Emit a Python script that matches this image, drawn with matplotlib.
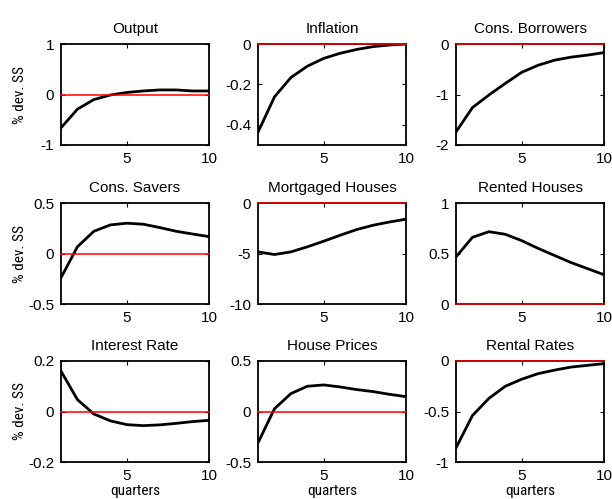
import matplotlib
matplotlib.use("Agg")
import matplotlib.pyplot as plt
from matplotlib import font_manager

quarters = [1, 2, 3, 4, 5, 6, 7, 8, 9, 10]

titles = ["Output", "Inflation", "Cons. Borrowers",
          "Cons. Savers", "Mortgaged Houses", "Rented Houses",
          "Interest Rate", "House Prices", "Rental Rates"]

output = [-0.66, -0.29, -0.10, -0.01, 0.04, 0.07, 0.09, 0.09, 0.07, 0.07]
inflation = [-0.437, -0.262, -0.166, -0.11, -0.071, -0.046, -0.027, -0.013, -0.005, 0.0]
cons_borrowers = [-1.74, -1.26, -1.01, -0.78, -0.56, -0.42, -0.32, -0.26, -0.22, -0.17]
cons_savers = [-0.24, 0.067, 0.22, 0.283, 0.30, 0.29, 0.257, 0.22, 0.193, 0.167]
mortgaged_houses = [-4.84, -5.1, -4.84, -4.34, -3.78, -3.19, -2.63, -2.2, -1.88, -1.6]
rented_houses = [0.467, 0.66, 0.716, 0.69, 0.627, 0.55, 0.48, 0.41, 0.35, 0.29]
interest_rate = [0.16, 0.047, -0.01, -0.037, -0.052, -0.056, -0.053, -0.047, -0.04, -0.035]
house_prices = [-0.31, 0.027, 0.177, 0.25, 0.263, 0.243, 0.217, 0.197, 0.17, 0.147]
rental_rates = [-0.86, -0.54, -0.37, -0.25, -0.18, -0.125, -0.09, -0.06, -0.043, -0.026]

series = [output, inflation, cons_borrowers, cons_savers, mortgaged_houses,
          rented_houses, interest_rate, house_prices, rental_rates]

ylims = [(-1, 1), (-0.5, 0), (-2, 0), (-0.5, 0.5), (-10, 0), (0, 1),
         (-0.2, 0.2), (-0.5, 0.5), (-1, 0)]
yticks = [[-1, 0, 1], [-0.4, -0.2, 0], [-2, -1, 0], [-0.5, 0, 0.5], [-10, -5, 0],
          [0, 0.5, 1], [-0.2, 0, 0.2], [-0.5, 0, 0.5], [-1, -0.5, 0]]
ytick_labels = [["-1", "0", "1"], ["-0.4", "-0.2", "0"], ["-2", "-1", "0"],
                ["-0.5", "0", "0.5"], ["-10", "-5", "0"], ["0", "0.5", "1"],
                ["-0.2", "0", "0.2"], ["-0.5", "0", "0.5"], ["-1", "-0.5", "0"]]
xticks = [5, 10]

plt.rcParams['font.family'] = ['Liberation Sans', 'DejaVu Sans']

names = {f.name for f in font_manager.fontManager.ttflist}
narrow_family = 'DejaVu Sans'
for cand in ['Liberation Sans Narrow', 'Roboto Condensed', 'Open Sans Condensed',
             'DejaVu Sans Condensed']:
    if cand in names:
        narrow_family = cand
        break
has_condensed = any(f.name == 'DejaVu Sans' and 'ondensed' in str(f.stretch) or
                    'Condensed' in f.fname for f in font_manager.fontManager.ttflist)
narrow_kw = dict(family=narrow_family)
if narrow_family == 'DejaVu Sans' and has_condensed:
    narrow_kw['stretch'] = 'condensed'
is_narrow = narrow_family != 'DejaVu Sans' or has_condensed
ylab_size = 11 if is_narrow else 9
xlab_size = 11 if is_narrow else 9

fig = plt.figure(figsize=(6.12, 4.99), dpi=100)
lefts = [61 / 612, 258 / 612, 456 / 612]
bottoms = [1 - 145 / 499, 1 - 304 / 499, 1 - 462 / 499]
w = 148 / 612
h = 101 / 499

for i in range(9):
    r, c = divmod(i, 3)
    ax = fig.add_axes([lefts[c], bottoms[r], w, h])
    ax.plot(quarters, series[i], color='black', linewidth=2, zorder=3)
    ax.axhline(0, color='red', linewidth=1.1, zorder=4, clip_on=False)
    ax.set_xlim(1, 10)
    ax.set_ylim(*ylims[i])
    ax.set_xticks(xticks)
    ax.set_yticks(yticks[i])
    ax.set_yticklabels(ytick_labels[i])
    ax.tick_params(direction='in', top=True, right=True, labelsize=11, length=3,
                   width=0.8)
    ax.tick_params(axis='x', pad=5)
    ax.tick_params(axis='y', pad=5)
    for s in ax.spines.values():
        s.set_linewidth(1.3)
    ax.set_title(titles[i], fontsize=11, pad=8)
    if c == 0:
        ax.set_ylabel('% dev. SS', fontsize=ylab_size, va='center', **narrow_kw)
        ax.yaxis.set_label_coords(-0.277, 0.5)
    if r == 2:
        ax.set_xlabel('quarters', fontsize=xlab_size, labelpad=1, **narrow_kw)

fig.savefig('out.png', dpi=100)
